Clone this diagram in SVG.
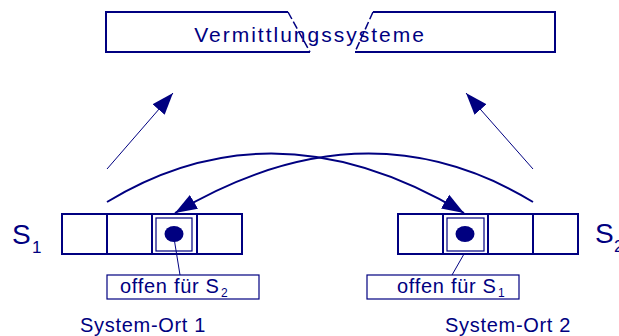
<svg xmlns="http://www.w3.org/2000/svg" width="619" height="336" viewBox="0 0 619 336">
  <style>
    .ln { fill: none; stroke: #000080; }
    .frame { fill: none; stroke: #000080; stroke-width: 2; }
    .dash { fill: none; stroke: #000080; stroke-width: 1.5; stroke-dasharray: 8 3; }
    .cell { fill: #ffffff; stroke: #000080; stroke-width: 2; }
    .inner { fill: none; stroke: #000080; stroke-width: 1.2; }
    .lbl { fill: #ffffff; stroke: #000080; stroke-width: 1.2; }
    .dot { fill: #000080; }
    text { font-family: "Liberation Sans", Arial, sans-serif; fill: #000080; }
    .t { font-size: 20px; letter-spacing: 0.7px; }
  </style>
  <defs>
    <marker id="head" viewBox="0 -9 24 18" refX="22" refY="0" markerWidth="24" markerHeight="18" markerUnits="userSpaceOnUse" orient="auto">
      <path d="M0,-8 L22,0 L0,8 Z" fill="#000080"/>
    </marker>
  </defs>

  <!-- switching systems, split into two halves -->
  <g id="vermittlung">
    <polyline class="frame" points="288,12 106,12 106,52 310,52"/>
    <line class="dash" x1="288" y1="12" x2="310" y2="52"/>
    <polyline class="frame" points="373,12 555,12 555,52 355,52"/>
    <line class="dash" x1="373" y1="12" x2="355" y2="52"/>
    <text x="310" y="42" text-anchor="middle" style="font-size:21px;letter-spacing:2px">Vermittlungssysteme</text>
  </g>

  <!-- site 1 -->
  <g id="ort1">
    <text x="12" y="244" style="font-size:28px">S</text>
    <text x="32" y="253" style="font-size:17px">1</text>
    <rect class="cell" x="62" y="214" width="45" height="40"/>
    <rect class="cell" x="107" y="214" width="45" height="40"/>
    <rect class="cell" x="152" y="214" width="45" height="40"/>
    <rect class="cell" x="197" y="214" width="45" height="40"/>
    <rect class="inner" x="156" y="218" width="36" height="33"/>
    <ellipse class="dot" cx="174" cy="234" rx="9.5" ry="8"/>
    <line class="ln" stroke-width="1" x1="174" y1="238" x2="180" y2="275"/>
    <rect class="lbl" x="107" y="275" width="152" height="24"/>
    <text class="t" x="120" y="293">offen für S</text>
    <text x="221" y="297" style="font-size:12px">2</text>
    <text class="t" x="80" y="332">System-Ort 1</text>
  </g>

  <!-- site 2 -->
  <g id="ort2">
    <rect class="cell" x="398" y="214" width="45" height="40"/>
    <rect class="cell" x="443" y="214" width="45" height="40"/>
    <rect class="cell" x="488" y="214" width="45" height="40"/>
    <rect class="cell" x="533" y="214" width="45" height="40"/>
    <rect class="inner" x="447" y="218" width="37" height="33"/>
    <ellipse class="dot" cx="465" cy="234" rx="9.5" ry="8"/>
    <line class="ln" stroke-width="1" x1="464" y1="254" x2="452" y2="275"/>
    <rect class="lbl" x="367" y="275" width="152" height="24"/>
    <text class="t" x="397" y="293">offen für S</text>
    <text x="498" y="297" style="font-size:12px">1</text>
    <text x="595" y="243" style="font-size:28px">S</text>
    <text x="614" y="252" style="font-size:17px">2</text>
    <text class="t" x="445" y="332">System-Ort 2</text>
  </g>

  <!-- connections -->
  <g id="connectors">
    <line class="ln" stroke-width="1" x1="107" y1="169" x2="173" y2="93" marker-end="url(#head)"/>
    <line class="ln" stroke-width="1" x1="533" y1="169" x2="466" y2="93" marker-end="url(#head)"/>
    <path class="ln" stroke-width="2" d="M107,202 Q275,100 464,213" marker-end="url(#head)"/>
    <path class="ln" stroke-width="2" d="M533,202 Q365,100 175,213" marker-end="url(#head)"/>
  </g>
</svg>
